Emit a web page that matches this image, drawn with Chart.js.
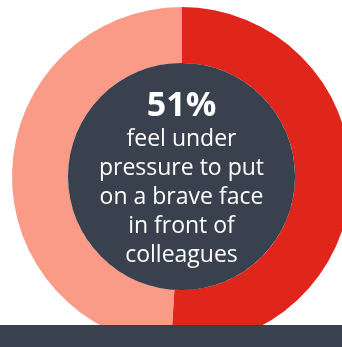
<!DOCTYPE html>
<html>
<head>
<meta charset="utf-8">
<script src="https://cdn.jsdelivr.net/npm/chart.js@4.4.0/dist/chart.umd.min.js"></script>
<style>
  html, body { margin: 0; padding: 0; background: #fff; overflow: hidden; }
  #wrap { position: relative; width: 342px; height: 347px; overflow: hidden; }
  #wrap canvas { position: absolute; left: 0; top: 0; }
  #bar { position: absolute; left: 0; top: 325px; width: 342px; height: 22px; background: #38414d; }
</style>
</head>
<body>
<div id="wrap">
  <canvas id="pie" width="363" height="353" style="width:363px;height:353px"></canvas>
  <div id="bar"></div>
</div>
<script>
const labels = ['Feel under pressure', 'Do not'];
const values = [51, 49];
const colors = ['#e0251b', '#fa9b87'];
const bigText = '51%';
const lines = ['feel under', 'pressure to put', 'on a brave face', 'in front of', 'colleagues'];

const centre = {
  id: 'centre',
  afterDatasetsDraw(chart) {
    const arc = chart.getDatasetMeta(0).data[0];
    const ctx = chart.ctx;
    ctx.save();
    ctx.fillStyle = '#38414d';
    ctx.beginPath();
    ctx.arc(arc.x, arc.y, arc.innerRadius, 0, Math.PI * 2);
    ctx.fill();
    ctx.fillStyle = '#ffffff';
    ctx.textAlign = 'center';
    ctx.textBaseline = 'alphabetic';
    ctx.font = 'bold 34px "Open Sans"';
    ctx.fillText(bigText, arc.x, 116);
    ctx.font = '23px "Open Sans"';
    lines.forEach((t, i) => ctx.fillText(t, arc.x, 146 + i * 29));
    ctx.restore();
  }
};

new Chart(document.getElementById('pie'), {
  type: 'doughnut',
  data: {
    labels: labels,
    datasets: [{
      data: values,
      backgroundColor: colors,
      borderWidth: 0
    }]
  },
  options: {
    responsive: false,
    animation: false,
    cutout: '67%',
    layout: { padding: { left: 12, right: 12, top: 7, bottom: 7 } },
    plugins: { legend: { display: false }, tooltip: { enabled: false } }
  },
  plugins: [centre]
});
</script>
</body>
</html>
